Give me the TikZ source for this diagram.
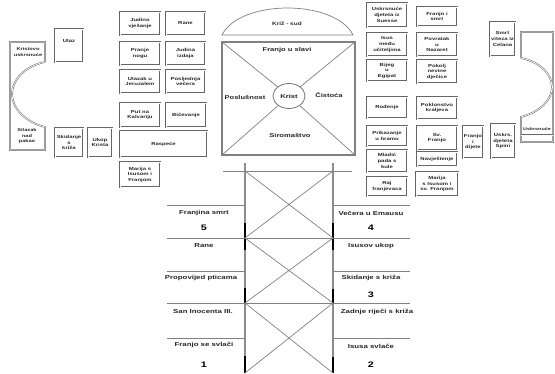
\documentclass[tikz,border=0pt]{standalone}
\usepackage{fontspec}
\newfontfamily\planfont[FakeStretch=1.35]{Liberation Sans}
\usetikzlibrary{shapes.geometric}
\tikzset{panel/.style={draw=black!60,double=white,double distance=.7pt,line width=.5pt,align=center,inner sep=0pt,text=black!85,font=\planfont\bfseries\fontsize{4.4}{5.6}\selectfont}}
\tikzset{outline/.style={draw=black!60,double=white,double distance=.7pt,line width=.5pt}}
\tikzset{rib/.style={draw=black!50,line width=.7pt}}
\tikzset{navetext/.style={text=black!85,font=\planfont\bfseries\fontsize{5.8}{7}\selectfont}}
\tikzset{bigno/.style={text=black,font=\planfont\bfseries\fontsize{8}{9}\selectfont}}
\tikzset{vaulttext/.style={text=black!85,align=center,font=\planfont\bfseries\fontsize{5.6}{7}\selectfont}}

\begin{document}
\begin{tikzpicture}[x=1pt,y=-1pt]
\useasboundingbox (0,0) rectangle (555,373);
% left transept
\draw[outline] (45,62) -- (45,42) -- (10,42) -- (10,150) -- (45,150) -- (45,127) .. controls (25,122) and (12,108) .. (12,94) .. controls (12,80) and (25,66) .. (45,62);
\node[vaulttext,font=\planfont\bfseries\fontsize{4.2}{5.4}\selectfont] (uskrs) at (28,52) {Kristovo\\uskrsnuće};
\node[vaulttext,font=\planfont\bfseries\fontsize{4.2}{5.4}\selectfont] (limb) at (27,136) {Silazak\\nad\\pakao};
\node[panel,minimum width=28,minimum height=33] (ulaz) at (69,45.5) {};
\node[panel,draw=none] (ulaztxt) at (69,41) {Ulaz};
\node[panel,minimum width=28,minimum height=29] (skid) at (69,142.5) {Skidanje\\s\\križa};
\node[panel,minimum width=24,minimum height=29] (ukop) at (100,142.5) {Ukop\\Krista};
\node[panel,minimum width=40,minimum height=23] (judino) at (140,23.5) {Judino\\vješanje};
\node[panel,minimum width=39,minimum height=23] (rane) at (185.5,23.5) {Rane};
\node[panel,minimum width=40,minimum height=23] (pranje) at (140,53.5) {Pranje\\nogu};
\node[panel,minimum width=39,minimum height=23] (izdaja) at (185.5,53.5) {Judina\\izdaja};
\node[panel,minimum width=40,minimum height=23] (ulazak) at (140,81.5) {Ulazak u\\Jeruzalem};
\node[panel,minimum width=39,minimum height=23] (vecera) at (185.5,81.5) {Posljednja\\večera};
\node[panel,minimum width=40,minimum height=24] (kalvarija) at (140,115) {Put na\\Kalvariju};
\node[panel,minimum width=40,minimum height=24] (bic) at (186,115) {Bičevanje};
\node[panel,minimum width=87,minimum height=26] (raspece) at (163.5,144) {Raspeće};
\node[panel,minimum width=40,minimum height=25] (marija) at (140,174.5) {Marija s\\Isusom i\\Franjom};
% crossing
\coordinate (nw) at (222,42);
\coordinate (ne) at (355,42);
\coordinate (sw) at (222,155);
\coordinate (se) at (355,155);
\draw[rib] (222,35) .. controls (240,-1) and (335,-1) .. (353,35) -- cycle;
\node[vaulttext,font=\planfont\bfseries\fontsize{4.8}{6}\selectfont] (sud) at (287,24) {Križ - sud};
\draw[rib,line width=1.1pt] (nw) rectangle (se);
\node[draw=black!55,line width=.8pt,ellipse,minimum width=32,minimum height=25,vaulttext,inner sep=0pt] (krist) at (289,96) {Krist};
\draw[rib] (nw) -- (krist);
\draw[rib] (ne) -- (krist);
\draw[rib] (sw) -- (krist);
\draw[rib] (se) -- (krist);
\node[vaulttext] (slava) at (287,50) {Franjo u slavi};
\node[vaulttext] (posl) at (245,97) {Poslušnost};
\node[vaulttext] (cist) at (329,95) {Čistoća};
\node[vaulttext] (sirom) at (290,135) {Siromaštvo};
% nave
\draw[rib] (223,171) -- (352,171);
\draw[black!45,line width=2.2pt] (245,163) -- (245,373);
\draw[black!45,line width=2.2pt] (333,163) -- (333,373);
\draw[black,line width=2.4pt] (245,223) -- (245,250) (245,288) -- (245,303) (245,356) -- (245,373);
\draw[black,line width=2.4pt] (333,223) -- (333,250) (333,289) -- (333,303) (333,357) -- (333,373);
\draw[rib] (245,171) -- (333,238) (333,171) -- (245,238);
\draw[rib] (245,238) -- (333,303) (333,238) -- (245,303);
\draw[rib] (245,303) -- (333,373) (333,303) -- (245,373);
\draw[rib] (167,205) -- (245,205) (333,205) -- (410,205);
\draw[rib] (167,238) -- (410,238);
\draw[rib] (167,271) -- (245,271) (333,271) -- (410,271);
\draw[rib] (167,303) -- (410,303);
\draw[rib] (167,338) -- (245,338) (333,338) -- (410,338);
\node[navetext] (smrt) at (204,213) {Franjina smrt};
\node[bigno] (n5) at (204,228) {5};
\node[navetext] (stigma) at (204,246) {Rane};
\node[navetext] (ptice) at (201,278) {Propovijed pticama};
\node[navetext] (san) at (203,311) {San Inocenta III.};
\node[navetext] (svlaci) at (204,345) {Franjo se svlači};
\node[bigno] (n1) at (204,365) {1};
\node[navetext] (emaus) at (371,213) {Večera u Emausu};
\node[bigno] (n4) at (371,228) {4};
\node[navetext] (ukop2) at (371,246) {Isusov ukop};
\node[navetext] (skidanje) at (371,278) {Skidanje s križa};
\node[bigno] (n3) at (371,295) {3};
\node[navetext] (rijeci) at (377,312) {Zadnje riječi s križa};
\node[navetext] (isusa) at (371,346) {Isusa svlače};
\node[bigno] (n2) at (371,365) {2};
% right transept
\node[panel,minimum width=40,minimum height=24] (suessa) at (387,15) {Uskrsnuće\\djeteta iz\\Suesse};
\node[panel,minimum width=40,minimum height=19] (fsmrt) at (437,16.5) {Franjo i\\smrt};
\node[panel,minimum width=40,minimum height=23] (ucitelji) at (387,44.5) {Isus\\među\\učiteljima};
\node[panel,minimum width=40,minimum height=23] (nazaret) at (437,44.5) {Povratak\\u\\Nazaret};
\node[panel,minimum width=40,minimum height=21] (egipat) at (387,70.5) {Bijeg\\u\\Egipat};
\node[panel,minimum width=40,minimum height=23] (pokolj) at (437,71.5) {Pokolj\\nevine\\dječice};
\node[panel,minimum width=40,minimum height=21] (rodenje) at (387,107.5) {Rođenje};
\node[panel,minimum width=40,minimum height=22] (kraljevi) at (437,108) {Poklonstvo\\kraljeva};
\node[panel,minimum width=40,minimum height=20] (hram) at (387,136) {Prikazanje\\u hramu};
\node[panel,minimum width=40,minimum height=24] (sveti) at (437,138) {Sv.\\Franjo};
\node[panel,minimum width=40,minimum height=22] (kula) at (387,161) {Mladić\\pada s\\kule};
\node[panel,minimum width=40,minimum height=14] (navj) at (437,159) {Navještenje};
\node[panel,minimum width=40,minimum height=19] (raj) at (387,186.5) {Raj\\franjevaca};
\node[panel,minimum width=42,minimum height=24] (maesta) at (437,184) {Marija\\s Isusom i\\sv. Franjom};
\node[panel,minimum width=20,minimum height=32] (dijete) at (473,142) {Franjo\\i\\dijete};
\node[panel,minimum width=24,minimum height=34] (spini) at (503,141) {Uskrs.\\djeteta\\Spini};
\node[panel,minimum width=25,minimum height=34] (celano) at (502.5,39) {Smrt\\viteza iz\\Celana};
\draw[outline] (521,58) -- (521,32) -- (553,32) -- (553,142) -- (521,142) -- (521,117) .. controls (540,112) and (552,100) .. (552,87) .. controls (552,74) and (540,62) .. (521,58);
\draw[outline] (521,135) -- (553,135);
\node[vaulttext,font=\planfont\bfseries\fontsize{4}{5}\selectfont] (uskrsnuce) at (537,129) {Uskrsnuće};
\end{tikzpicture}
\end{document}
